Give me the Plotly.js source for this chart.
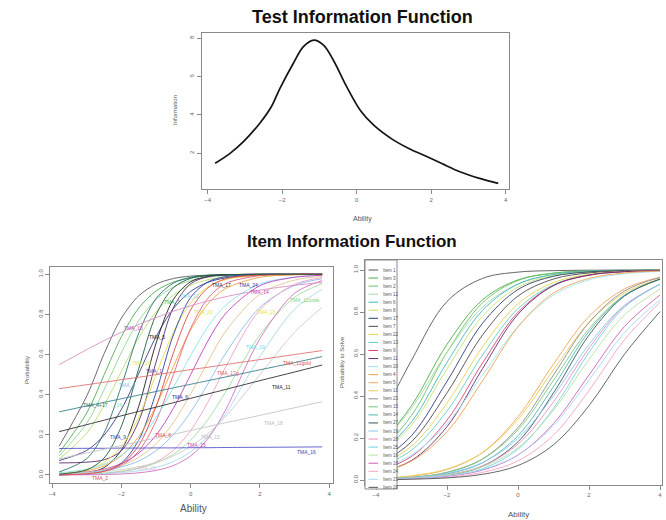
<!DOCTYPE html>
<html><head><meta charset="utf-8">
<script src="https://cdn.plot.ly/plotly-3.0.1.min.js"></script>
<style>html,body{margin:0;padding:0;background:#fff;}#chart{width:666px;height:520px;}</style>
</head><body><div id="chart"></div>
<script>
// ---------- Top panel: test information ----------
const abilityTest = [-3.8,-3.4,-3.04,-2.6,-2.3,-2.06,-1.7,-1.43,-1.15,-0.89,-0.63,-0.27,0.09,0.45,0.98,1.4,1.88,2.3,2.77,3.3,3.8];
const infoTest    = [1.48,2.0,2.61,3.57,4.4,5.39,6.70,7.57,7.91,7.65,6.87,5.48,4.26,3.48,2.70,2.25,1.83,1.45,1.04,0.69,0.43];

// ---------- Bottom-left panel: item curves (TMA items) ----------
const abilityLeft = [-3.8,-3,-2.5,-2,-1.5,-1,-0.5,0,0.5,1,2,3,3.8];
const leftCurves = [
  [0.144,0.395,0.605,0.782,0.893,0.951,0.979,0.991,0.996,0.998,1,1,1],
  [0.111,0.31,0.5,0.69,0.832,0.917,0.961,0.982,0.992,0.996,0.999,1,1],
  [0.095,0.259,0.426,0.611,0.769,0.875,0.937,0.969,0.985,0.993,0.998,1,1],
  [0.079,0.209,0.348,0.517,0.684,0.813,0.897,0.946,0.973,0.986,0.996,0.999,1],
  [0.015,0.082,0.211,0.445,0.707,0.879,0.956,0.985,0.995,0.998,1,1,1],
  [0.072,0.123,0.199,0.328,0.506,0.689,0.829,0.915,0.96,0.982,0.996,0.999,1],
  [0.001,0.011,0.037,0.125,0.343,0.657,0.875,0.963,0.989,0.997,1,1,1],
  [0.06,0.064,0.076,0.121,0.268,0.563,0.834,0.953,0.988,0.997,1,1,1],
  [0.006,0.027,0.063,0.142,0.289,0.5,0.711,0.858,0.937,0.973,0.995,0.999,1],
  [0.001,0.006,0.019,0.06,0.174,0.411,0.698,0.885,0.962,0.988,0.999,1,1],
  [0.006,0.021,0.046,0.096,0.192,0.345,0.54,0.723,0.853,0.928,0.985,0.997,0.999],
  [0.001,0.007,0.018,0.047,0.119,0.269,0.5,0.731,0.881,0.953,0.993,0.999,1],
  [0.011,0.029,0.054,0.099,0.174,0.287,0.435,0.596,0.739,0.844,0.952,0.986,0.995],
  [0.005,0.015,0.029,0.057,0.109,0.198,0.332,0.5,0.668,0.802,0.943,0.985,0.995],
  [0.005,0.014,0.026,0.048,0.088,0.156,0.261,0.404,0.565,0.713,0.901,0.971,0.989],
  [0.005,0.012,0.022,0.04,0.07,0.121,0.201,0.314,0.455,0.603,0.835,0.944,0.978],
  [0.001,0.004,0.008,0.017,0.034,0.065,0.123,0.221,0.364,0.535,0.823,0.95,0.983],
  [0.002,0.006,0.01,0.019,0.034,0.06,0.103,0.174,0.277,0.411,0.698,0.885,0.953],
  [0.001,0.004,0.006,0.012,0.021,0.038,0.067,0.115,0.192,0.302,0.589,0.826,0.926],
  [0,0.001,0.002,0.005,0.011,0.023,0.047,0.095,0.182,0.321,0.679,0.905,0.969],
  [0.005,0.011,0.017,0.027,0.041,0.063,0.095,0.142,0.206,0.289,0.5,0.711,0.835],
  [0.001,0.006,0.019,0.054,0.147,0.341,0.608,0.823,0.933,0.977,0.997,1,1],
  [0.004,0.026,0.085,0.244,0.531,0.798,0.933,0.98,0.994,0.998,1,1,1],
  [0.55,0.625,0.67,0.711,0.75,0.784,0.816,0.843,0.867,0.888,0.921,0.945,0.96],
  [0.43,0.45,0.462,0.475,0.487,0.5,0.512,0.525,0.537,0.55,0.575,0.6,0.62],
  [0.315,0.344,0.362,0.38,0.398,0.416,0.434,0.452,0.47,0.488,0.524,0.56,0.59],
  [0.216,0.251,0.273,0.295,0.317,0.338,0.36,0.382,0.404,0.426,0.47,0.513,0.548],
  [0.132,0.133,0.133,0.134,0.134,0.135,0.135,0.136,0.136,0.137,0.138,0.139,0.14],
  [0.08,0.11,0.128,0.147,0.166,0.185,0.203,0.222,0.241,0.26,0.297,0.335,0.365]
];
const leftColors = ['#5a5a5a','#4caf50','#8fd68f','#b5e06e','#2f6f6f','#3a3a8c','#1e1e1e','#5b2c6f','#e8dc50','#2e3ea0',
  '#f0a040','#e0607a','#8ee0f0','#c040c0','#e2c48e','#8cbcf0','#f0a0c4','#a0dca0','#a8d8f0','#d070c0',
  '#cccccc','#e04848','#1f5f3f','#d890c8','#e07070','#3a8090','#303030','#5555c8','#c4c4c4'];
const leftLabelText = ['TMA_10','TMA_5','TMA_7','TMA_12','TMA_17','TMA_24','TMA_14','TMA_11code','TMA_20','TMA_21',
  'TMA_19','TMA_22','TMA_11gold','TMA_1','TMA_17g','TMA_11','TMA_3','TMA_6','TMA_4+17','_16',
  'TMA_9','TMA_8','TMA_13','TMA_18','TMA_15','TMA_16','TMA_2','TMA_23'];
const leftLabelX = [-1.66,-0.98,-0.55,-0.02,0.9,1.67,2.0,3.3,0.36,2.2,1.86,-1.42,3.06,-1.05,1.08,2.63,-1.85,-0.31,-2.75,-2.1,-2.09,-0.79,0.56,2.39,0.17,3.35,-2.62,-1.27];
const leftLabelY = [0.73,0.69,0.86,0.89,0.947,0.947,0.913,0.87,0.81,0.81,0.64,0.56,0.56,0.52,0.51,0.44,0.45,0.39,0.35,0.35,0.19,0.2,0.19,0.26,0.15,0.116,-0.015,0.037];
const leftLabelColor = ['#c050b0','#222222','#4caf50','#7fd0e8','#333333','#3030a0','#c040c0','#7cd07c','#e8e040','#e8e040',
  '#70d8e8','#d8e840','#e05050','#8040a0','#e06070','#222222','#70c8e0','#303090','#2f6f6f','#90d890',
  '#4040b0','#e05050','#bbbbbb','#bbbbbb','#c050b0','#4040c0','#e05050','#e0c0d0'];

// ---------- Bottom-right panel: probability to solve ----------
const abilityRight = [-4,-3,-2,-1,0,1,2,3,4];
const rightCurves = [
  [0.24,0.57,0.85,0.96,0.99,0.997,0.999,1.0,1.0],
  [0.142,0.354,0.646,0.858,0.953,0.985,0.995,0.998,0.999],
  [0.113,0.307,0.608,0.844,0.95,0.985,0.995,0.998,0.999],
  [0.147,0.341,0.608,0.823,0.933,0.977,0.992,0.997,0.999],
  [0.103,0.277,0.56,0.808,0.933,0.979,0.993,0.997,0.999],
  [0.10,0.261,0.529,0.78,0.918,0.973,0.99,0.996,0.999],
  [0.074,0.211,0.47,0.746,0.907,0.97,0.991,0.997,0.999],
  [0.066,0.182,0.415,0.69,0.876,0.957,0.986,0.995,0.998],
  [0.06,0.161,0.366,0.634,0.839,0.94,0.979,0.993,0.998],
  [0.052,0.142,0.328,0.595,0.816,0.93,0.976,0.992,0.997],
  [0.038,0.112,0.285,0.557,0.799,0.926,0.975,0.992,0.997],
  [0.03,0.093,0.254,0.53,0.789,0.926,0.976,0.992,0.997],
  [0.047,0.119,0.269,0.5,0.731,0.881,0.953,0.982,0.993],
  [0.032,0.09,0.23,0.472,0.729,0.89,0.96,0.986,0.995],
  [0.006,0.018,0.05,0.131,0.302,0.552,0.779,0.91,0.966],
  [0.007,0.02,0.052,0.13,0.289,0.525,0.75,0.891,0.957],
  [0.004,0.012,0.036,0.1,0.25,0.5,0.75,0.9,0.964],
  [0.005,0.013,0.037,0.1,0.239,0.475,0.72,0.88,0.955],
  [0.003,0.01,0.029,0.082,0.211,0.445,0.707,0.879,0.956],
  [0.002,0.007,0.022,0.066,0.182,0.415,0.69,0.876,0.957],
  [0.005,0.012,0.032,0.083,0.198,0.401,0.646,0.832,0.931],
  [0.003,0.009,0.025,0.067,0.171,0.372,0.628,0.829,0.933],
  [0.002,0.006,0.019,0.054,0.147,0.341,0.608,0.823,0.933],
  [0.003,0.009,0.024,0.063,0.154,0.332,0.574,0.786,0.909],
  [0.0025,0.007,0.018,0.047,0.119,0.269,0.5,0.731,0.881],
  [0.002,0.005,0.013,0.036,0.091,0.214,0.426,0.668,0.846],
  [0.003,0.008,0.02,0.05,0.119,0.259,0.476,0.702,0.858],
  [0.001,0.004,0.01,0.027,0.069,0.168,0.354,0.599,0.802]
];
const rightNames = ['Item 1','Item 3','Item 2','Item 12','Item 6','Item 8','Item 17','Item 7','Item 22','Item 13',
  'Item 9','Item 11','Item 20','Item 4','Item 5','Item 10','Item 23','Item 15','Item 14','Item 27',
  'Item 19','Item 28','Item 25','Item 16','Item 18','Item 24','Item 21','Item 26'];
const rightColors = ['#555555','#4daf4a','#66c266','#a6dba0','#41b6c4','#c7e16b','#2c3e7a','#4a4a4a','#e6d450','#5fcfc0',
  '#d6457a','#6a2a6a','#a0e4f4','#f0a050','#f2a65a','#e8cc55','#8c8c8c','#7cc47c','#4fb8b0','#3d5560',
  '#8cc8f0','#e890c0','#6dd3e8','#b8e0a0','#d060b0','#f0a0c8','#a8d8f8','#555555'];

// ---------- build ----------
const W = 666, H = 520;
const px = v => v / W, py = v => 1 - v / H;
const FONT = 'Liberation Sans, Arial, sans-serif';
const traces = [];
traces.push({x: abilityTest, y: infoTest, type: 'scatter', mode: 'lines', xaxis: 'x', yaxis: 'y',
  line: {color: '#141414', width: 1.7, shape: 'spline', smoothing: 1}, hoverinfo: 'skip'});
leftCurves.forEach((ys, i) => traces.push({x: abilityLeft, y: ys, type: 'scatter', mode: 'lines', xaxis: 'x2', yaxis: 'y2',
  line: {color: leftColors[i], width: 0.9, shape: 'spline', smoothing: 0.9}, hoverinfo: 'skip'}));
rightCurves.forEach((ys, i) => traces.push({x: abilityRight, y: ys, type: 'scatter', mode: 'lines', xaxis: 'x3', yaxis: 'y3',
  line: {color: rightColors[i], width: 0.9, shape: 'spline', smoothing: 1}, hoverinfo: 'skip'}));

const axisBase = {showline: true, mirror: true, linecolor: '#8a8a8a', linewidth: 1, ticks: 'outside', ticklen: 4,
  tickcolor: '#8a8a8a', showgrid: false, zeroline: false, fixedrange: true,
  tickfont: {family: FONT, size: 6, color: '#666'}};

const annotations = [];
const txt = (t, x, y, size, color, extra) => Object.assign({text: t, x: x, y: y, xref: 'paper', yref: 'paper',
  showarrow: false, xanchor: 'center', yanchor: 'middle', font: {family: FONT, size: size, color: color}}, extra || {});
annotations.push(txt('<b>Test Information Function</b>', px(362), py(17), 18, '#111'));
annotations.push(txt('<b>Item Information Function</b>', px(352), py(241), 17, '#111'));
annotations.push(txt('Ability', px(362), py(219), 7, '#555'));
annotations.push(txt('Information', px(175), py(110), 6, '#555', {textangle: -90}));
annotations.push(txt('Ability', px(193), py(508), 10, '#555'));
annotations.push(txt('Probability', px(27), py(370), 6, '#555', {textangle: -90}));
annotations.push(txt('Ability', px(518), py(514), 8, '#555'));
annotations.push(txt('Probability to Solve', px(342), py(362), 6, '#555', {textangle: -90}));
leftLabelText.forEach((t, i) => annotations.push({text: t, x: leftLabelX[i], y: leftLabelY[i], xref: 'x2', yref: 'y2',
  showarrow: false, font: {family: FONT, size: 5, color: leftLabelColor[i]}}));

const shapes = [];
shapes.push({type: 'rect', xref: 'paper', yref: 'paper', x0: px(365), x1: px(397), y0: py(489), y1: py(260),
  fillcolor: '#ffffff', line: {color: '#8a8a8a', width: 1}, layer: 'above'});
rightNames.forEach((n, i) => {
  const yy = 270 + i * 8.05;
  shapes.push({type: 'line', xref: 'paper', yref: 'paper', x0: px(368.5), x1: px(378), y0: py(yy), y1: py(yy),
    line: {color: rightColors[i], width: 1}, layer: 'above'});
  annotations.push(txt(n, px(380.5), py(yy), 4.5, '#555', {xanchor: 'left'}));
});

const layout = {
  width: W, height: H, margin: {l: 0, r: 0, t: 0, b: 0}, showlegend: false,
  paper_bgcolor: '#ffffff', plot_bgcolor: '#ffffff', font: {family: FONT},
  xaxis: Object.assign({}, axisBase, {domain: [px(201.7), px(509.3)], range: [-4.161, 4.097], tickvals: [-4, -2, 0, 2, 4], anchor: 'y'}),
  yaxis: Object.assign({}, axisBase, {domain: [py(189.3), py(33.3)], range: [0.122, 8.261], tickvals: [2, 4, 6, 8], tickangle: -90, anchor: 'x'}),
  xaxis2: Object.assign({}, axisBase, {domain: [px(50), px(333)], range: [-4.066, 4.114], tickvals: [-4, -2, 0, 2, 4], anchor: 'y2'}),
  yaxis2: Object.assign({}, axisBase, {domain: [py(483.3), py(266.7)], range: [-0.0414, 1.0379], tickvals: [0, 0.2, 0.4, 0.6, 0.8, 1.0], tickformat: '.1f', tickangle: -90, anchor: 'x2'}),
  xaxis3: Object.assign({}, axisBase, {domain: [px(365), px(662)], range: [-4.31, 4.056], tickvals: [-4, -2, 0, 2, 4], anchor: 'y3'}),
  yaxis3: Object.assign({}, axisBase, {domain: [py(485), py(260)], range: [-0.0238, 1.0476], tickvals: [0, 0.2, 0.4, 0.6, 0.8, 1.0], tickformat: '.1f', tickangle: -90, anchor: 'x3'}),
  annotations: annotations, shapes: shapes
};
Plotly.newPlot('chart', traces, layout, {displayModeBar: false, staticPlot: true});
</script></body></html>
